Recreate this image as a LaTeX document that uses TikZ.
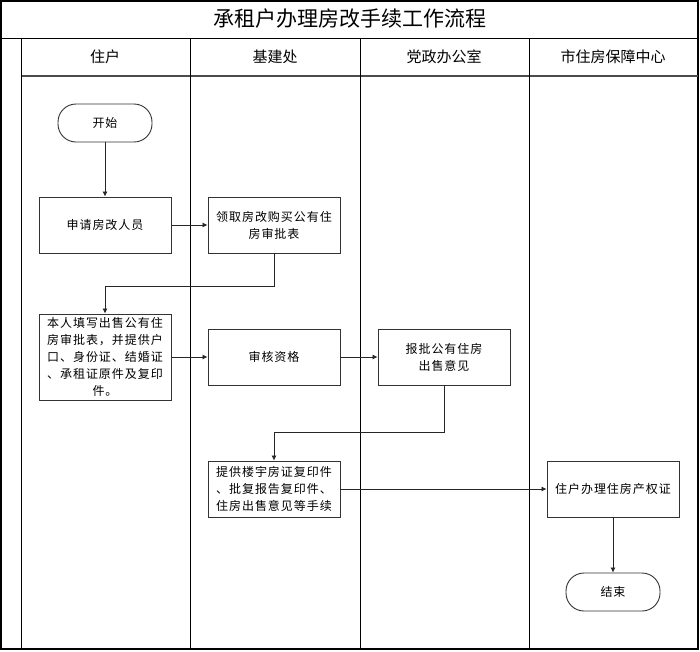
\documentclass[tikz,border=0pt]{standalone}
\usepackage{fontspec}
\setmainfont{Noto Sans CJK SC}
\newfontfamily\boxfont[LetterSpace=8]{Noto Sans CJK SC}
\usetikzlibrary{arrows.meta}
\tikzset{
  proc/.style={draw=black!80, line width=0.9pt, fill=white, minimum width=132pt, minimum height=56pt, align=center, font=\boxfont\fontsize{12}{17}\selectfont, inner sep=2pt},
  term/.style={draw=black!80, line width=0.9pt, fill=white, minimum width=94pt, minimum height=38pt, rounded corners=18pt, font=\boxfont\fontsize{12}{17}\selectfont},
  flow/.style={draw=black!85, line width=0.8pt, -{Latex[length=5pt,width=5pt]}},
  lane/.style={draw=black, line width=0.9pt},
  head/.style={font=\fontsize{15}{18}\selectfont}
}
\begin{document}
\begin{tikzpicture}[x=1pt,y=-1pt]
\useasboundingbox (0,0) rectangle (700,651);
\fill[white] (0,0) rectangle (700,651);
% frame
\draw[line width=1.3pt] (1,1) rectangle (698,649);
\draw[lane] (1,38) -- (698,38);
\draw[draw=black!70, line width=1.6pt] (21,76) -- (698,76);
\foreach \x in {21,190,360,529} \draw[lane] (\x,38) -- (\x,649);
% title and headers
\node[font=\fontsize{21}{24}\selectfont] (title) at (350,19) {承租户办理房改手续工作流程};
\node[head] (h1) at (105,57) {住户};
\node[head] (h2) at (275,57) {基建处};
\node[head] (h3) at (444,57) {党政办公室};
\node[head] (h4) at (613,57) {市住房保障中心};
% nodes
\node[term] (start) at (105,123) {开始};
\node[proc] (apply) at (105,225) {申请房改人员};
\node[proc] (get) at (274,225) {领取房改购买公有住\\房审批表};
\node[proc, minimum height=86pt] (fill) at (105,357) {本人填写出售公有住\\房审批表，并提供户\\口、身份证、结婚证\\、承租证原件及复印\\件。};
\node[proc] (check) at (274,357) {审核资格};
\node[proc] (report) at (444,357) {报批公有住房\\出售意见};
\node[proc] (provide) at (274,489) {提供楼宇房证复印件\\、批复报告复印件、\\住房出售意见等手续};
\node[proc] (cert) at (613,489) {住户办理住房产权证};
\node[term] (end) at (613,592) {结束};
% connectors
\draw[flow] (start) -- (apply);
\draw[flow] (apply) -- (get);
\draw[flow] (get.south) -- ++(0,33) -| (fill.north);
\draw[flow] (fill) -- (check);
\draw[flow] (check) -- (report);
\draw[flow] (report.south) -- ++(0,47) -| (provide.north);
\draw[flow] (provide) -- (cert);
\draw[flow] (cert) -- (end);
\end{tikzpicture}
\end{document}
